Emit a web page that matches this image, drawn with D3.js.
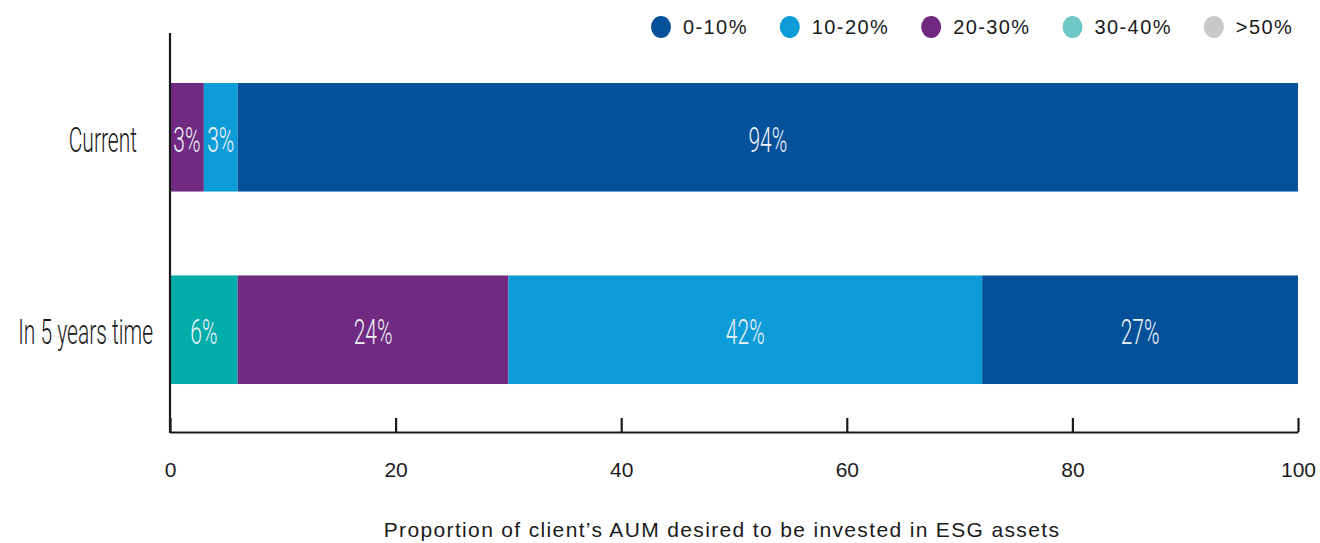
<!DOCTYPE html>
<html>
<head>
<meta charset="utf-8">
<script src="https://cdn.jsdelivr.net/npm/d3@7"></script>
<style>
  body { margin: 0; background: #fff; }
  svg { display: block; font-family: "Liberation Sans", Arial, sans-serif; }
</style>
</head>
<body>
<div id="chart"></div>
<script>
// data
const categories = ["Current", "In 5 years time"];
const bands = ["0-10%", "10-20%", "20-30%", "30-40%", ">50%"];
const share0to10 = [94, 28];
const share10to20 = [3, 42];
const share20to30 = [3, 24];
const share30to40 = [0, 6];
const shareOver50 = [0, 0];
// printed labels (the 0-10% label on the second bar reads 27%)
const labels0to10 = ["94%", "27%"];
const labels10to20 = ["3%", "42%"];
const labels20to30 = ["3%", "24%"];
const labels30to40 = ["", "6%"];
const xTicks = [0, 20, 40, 60, 80, 100];
const axisTitle = "Proportion of client\u2019s AUM desired to be invested in ESG assets";

const legendColor = {"0-10%": "#04519a", "10-20%": "#0e9cd8", "20-30%": "#702a82", "30-40%": "#6fc8c5", ">50%": "#c8c8c8"};
const barColor = {"0-10%": "#04519a", "10-20%": "#0e9cd8", "20-30%": "#702a82", "30-40%": "#00ada9", ">50%": "#c8c8c8"};

const valuesByBand = {"0-10%": share0to10, "10-20%": share10to20, "20-30%": share20to30, "30-40%": share30to40, ">50%": shareOver50};
const labelsByBand = {"0-10%": labels0to10, "10-20%": labels10to20, "20-30%": labels20to30, "30-40%": labels30to40, ">50%": ["", ""]};

const width = 1320, height = 543;
const svg = d3.select("#chart").append("svg")
    .attr("width", width)
    .attr("height", height);

const x = d3.scaleLinear().domain([0, 100]).range([170, 1298]);
const y = d3.scaleBand().domain(categories).range([34, 433]).paddingInner(0.436).paddingOuter(0.2545);

// stacked from the left: highest band first
const stackKeys = ["30-40%", "20-30%", "10-20%", "0-10%"];
const rows = categories.map((c, i) => {
    const r = {category: c, index: i};
    stackKeys.forEach(k => r[k] = valuesByBand[k][i]);
    return r;
});
const series = d3.stack().keys(stackKeys)(rows);

const layers = svg.selectAll(".layer")
    .data(series)
    .enter().append("g")
    .attr("class", "layer")
    .attr("fill", d => barColor[d.key]);

layers.selectAll("rect")
    .data(d => d.filter(s => s[1] - s[0] > 0))
    .enter().append("rect")
    .attr("x", d => x(d[0]))
    .attr("y", d => y(d.data.category))
    .attr("width", d => x(d[1]) - x(d[0]))
    .attr("height", y.bandwidth());

// condensed light look: squeeze text horizontally
const squeeze = 0.6;
function condensedText(g, px, py, txt, anchor, size, fill) {
    g.append("text")
        .attr("transform", `translate(${px},${py}) scale(${squeeze},1)`)
        .attr("text-anchor", anchor)
        .attr("dy", "0.36em")
        .attr("font-size", size)
        .attr("font-family", "Roboto, sans-serif")
        .attr("font-weight", 300)
        .attr("fill", fill)
        .text(txt);
}

const segLabels = svg.append("g");
series.forEach(s => {
    s.forEach(d => {
        const txt = labelsByBand[s.key][d.data.index];
        if (!txt || d[1] - d[0] <= 0) return;
        condensedText(segLabels, (x(d[0]) + x(d[1])) / 2, y(d.data.category) + y.bandwidth() / 2 + 2,
            txt, "middle", 35, "#eef3f8");
    });
});

// category labels
const catLabels = svg.append("g");
const catRight = [137, 153];
categories.forEach((c, i) => {
    condensedText(catLabels, catRight[i], y(c) + y.bandwidth() / 2 + 2, c, "end", 35, "#1a1a1a");
});

// axes
const xAxis = d3.axisBottom(x).tickValues(xTicks).tickSize(-14).tickPadding(30).tickSizeOuter(0);
const gx = svg.append("g")
    .attr("transform", "translate(0,432)")
    .call(xAxis);
gx.select(".domain").attr("stroke", "#1a1a1a").attr("stroke-width", 2.2);
gx.selectAll(".tick line").attr("stroke", "#1a1a1a").attr("stroke-width", 2.2);
gx.selectAll(".tick text")
    .attr("font-size", 21)
    .attr("font-family", "\"Liberation Sans\", sans-serif")
    .attr("fill", "#1a1a1a");

svg.append("line")
    .attr("x1", x(0)).attr("x2", x(0))
    .attr("y1", 33).attr("y2", 433)
    .attr("stroke", "#1a1a1a")
    .attr("stroke-width", 2.2);

svg.append("text")
    .attr("x", 722)
    .attr("y", 537)
    .attr("text-anchor", "middle")
    .attr("font-size", 21)
    .attr("letter-spacing", 1.35)
    .attr("fill", "#1a1a1a")
    .text(axisTitle);

// legend
const legend = svg.append("g");
let cx = 661;
bands.forEach(b => {
    legend.append("ellipse")
        .attr("cx", cx).attr("cy", 27)
        .attr("rx", 10).attr("ry", 11)
        .attr("fill", legendColor[b]);
    const t = legend.append("text")
        .attr("x", cx + 22)
        .attr("y", 27)
        .attr("dy", "0.36em")
        .attr("font-size", 20)
        .attr("letter-spacing", 1.4)
        .attr("fill", "#1a1a1a")
        .text(b);
    cx += 22 + t.node().getComputedTextLength() + 42;
});
</script>
</body>
</html>
